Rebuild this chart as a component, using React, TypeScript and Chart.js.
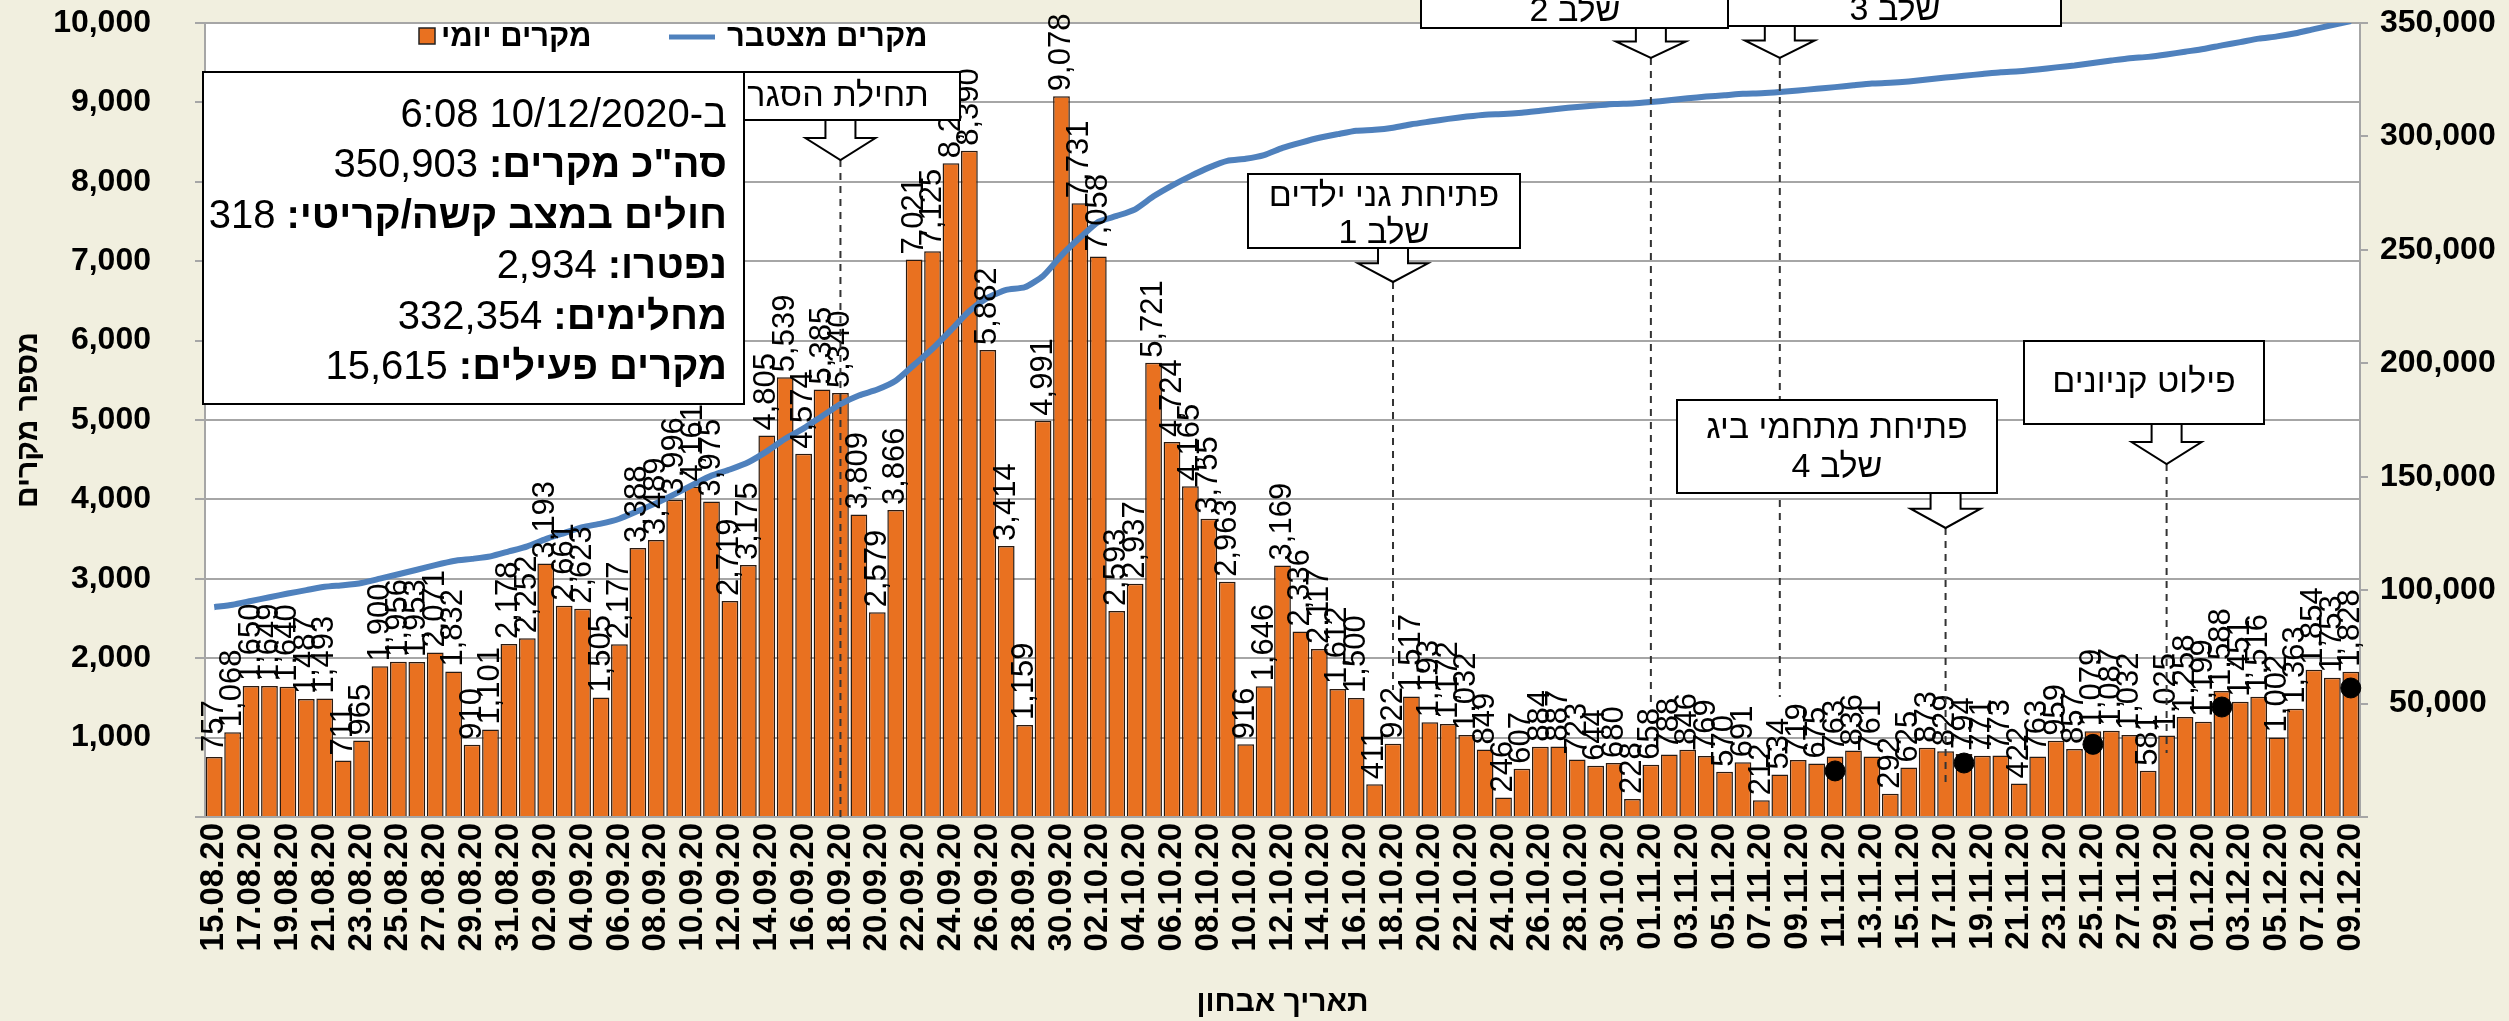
import React, { useEffect, useRef } from 'react';
import { Chart, registerables } from 'chart.js';

Chart.register(...registerables);

const FONT = "'Liberation Sans', Arial, sans-serif";

const dateLabels: string[] = [
  '15.08.20','16.08.20','17.08.20','18.08.20','19.08.20','20.08.20','21.08.20','22.08.20','23.08.20','24.08.20',
  '25.08.20','26.08.20','27.08.20','28.08.20','29.08.20','30.08.20','31.08.20',
  '01.09.20','02.09.20','03.09.20','04.09.20','05.09.20','06.09.20','07.09.20','08.09.20','09.09.20','10.09.20',
  '11.09.20','12.09.20','13.09.20','14.09.20','15.09.20','16.09.20','17.09.20','18.09.20','19.09.20','20.09.20',
  '21.09.20','22.09.20','23.09.20','24.09.20','25.09.20','26.09.20','27.09.20','28.09.20','29.09.20','30.09.20',
  '01.10.20','02.10.20','03.10.20','04.10.20','05.10.20','06.10.20','07.10.20','08.10.20','09.10.20','10.10.20',
  '11.10.20','12.10.20','13.10.20','14.10.20','15.10.20','16.10.20','17.10.20','18.10.20','19.10.20','20.10.20',
  '21.10.20','22.10.20','23.10.20','24.10.20','25.10.20','26.10.20','27.10.20','28.10.20','29.10.20','30.10.20','31.10.20',
  '01.11.20','02.11.20','03.11.20','04.11.20','05.11.20','06.11.20','07.11.20','08.11.20','09.11.20','10.11.20',
  '11.11.20','12.11.20','13.11.20','14.11.20','15.11.20','16.11.20','17.11.20','18.11.20','19.11.20','20.11.20',
  '21.11.20','22.11.20','23.11.20','24.11.20','25.11.20','26.11.20','27.11.20','28.11.20','29.11.20','30.11.20',
  '01.12.20','02.12.20','03.12.20','04.12.20','05.12.20','06.12.20','07.12.20','08.12.20','09.12.20',
];

const dailyCases: number[] = [
  757, 1068, 1650, 1649, 1640, 1487, 1493, 711, 965, 1900,
  1956, 1953, 2071, 1832, 910, 1101, 2178,
  2252, 3193, 2661, 2623, 1505, 2177, 3388, 3489, 3996, 4161,
  3975, 2719, 3175, 4805, 5539, 4574, 5385, 5340, 3809, 2579,
  3866, 7021, 7125, 8234, 8390, 5882, 3414, 1159, 4991, 9078,
  7731, 7058, 2593, 2937, 5721, 4724, 4165, 3755, 2963, 916,
  1646, 3169, 2336, 2117, 1612, 1500, 411, 922, 1517, 1193,
  1172, 1032, 849, 246, 607, 884, 887, 723, 644, 680, 228,
  658, 788, 846, 769, 570, 691, 212, 534, 719, 675,
  763, 836, 761, 292, 625, 873, 829, 794, 771, 773,
  422, 763, 959, 857, 1079, 1087, 1032, 581, 1025, 1258,
  1199, 1588, 1451, 1516, 1002, 1363, 1854, 1753, 1828,
];

const cumulativeCases: number[] = [
  92500, 93568, 95218, 96867, 98507, 99994, 101487, 102198, 103163, 105063,
  107019, 108972, 111043, 112875, 113785, 114886, 117064,
  119316, 122509, 125170, 127793, 129298, 131475, 134863, 138352, 142348, 146509,
  150484, 153203, 156378, 161183, 166722, 171296, 176681, 182021, 185830, 188409,
  192275, 199296, 206421, 214655, 223045, 228927, 232341, 233500, 238491, 247569,
  255300, 262358, 264951, 267888, 273609, 278333, 282498, 286253, 289216, 290132,
  291778, 294947, 297283, 299400, 301012, 302512, 302923, 303845, 305362, 306555,
  307727, 308759, 309608, 309854, 310461, 311345, 312232, 312955, 313599, 314279, 314507,
  315165, 315953, 316799, 317568, 318138, 318829, 319041, 319575, 320294, 320969,
  321732, 322568, 323329, 323621, 324246, 325119, 325948, 326742, 327513, 328286,
  328708, 329471, 330430, 331287, 332366, 333453, 334485, 335066, 336091, 337349,
  338548, 340136, 341587, 343103, 344105, 345468, 347322, 349075, 350903,
];

const markerDates: string[] = ['11.11.20', '18.11.20', '25.11.20', '02.12.20', '09.12.20'];
const markerValues: number[] = [580, 680, 915, 1385, 1625];

const seriesNames = ['מקרים יומי', 'מקרים מצטבר'];
const yAxisTitle = 'מספר מקרים';
const xAxisTitle = 'תאריך אבחון';

const leftAxisMax = 10000;
const leftAxisStep = 1000;
const rightAxisMax = 350000;
const rightAxisStep = 50000;

const infoHeader = 'ב-10/12/2020 6:08';
const infoLabels = ['סה"כ מקרים:', 'חולים במצב קשה/קריטי:', 'נפטרו:', 'מחלימים:', 'מקרים פעילים:'];
const infoValues = ['350,903', '318', '2,934', '332,354', '15,615'];

const eventDates = ['18.09.20', '18.10.20', '01.11.20', '08.11.20', '17.11.20', '29.11.20'];
const eventTexts: string[][] = [
  ['תחילת הסגר'],
  ['פתיחת גני ילדים', 'שלב 1'],
  ['שלב 2'],
  ['שלב 3'],
  ['פתיחת מתחמי ביג', 'שלב 4'],
  ['פילוט קניונים'],
];

// Layout of the callout shapes (pixels), kept separate from the data
const eventLayout = [
  { box: [717, 72, 243, 48], textX: 838, textY: [97], arrowTop: 120, arrowTip: 160, lineEnd: 0 },
  { box: [1248, 174, 272, 74], textX: 1384, textY: [197, 234], arrowTop: 248, arrowTip: 282, lineEnd: 1600 },
  { box: [1421, -60, 307, 88], textX: 1575, textY: [12], arrowTop: 28, arrowTip: 58, lineEnd: 1385 },
  { box: [1728, -60, 333, 86], textX: 1895, textY: [11], arrowTop: 26, arrowTip: 58, lineEnd: 1510 },
  { box: [1677, 400, 320, 93], textX: 1837, textY: [429, 468], arrowTop: 493, arrowTip: 528, lineEnd: 400 },
  { box: [2024, 341, 240, 83], textX: 2144, textY: [383], arrowTop: 424, arrowTip: 464, lineEnd: 805 },
];

const fmt = (v: number) => v.toLocaleString('en-US');

function drawArrow(ctx: CanvasRenderingContext2D, cx: number, top: number, tip: number) {
  const h = tip - top;
  const shaftH = h * 0.45;
  const sw = 15;
  const hw = 35;
  ctx.beginPath();
  ctx.moveTo(cx - sw, top);
  ctx.lineTo(cx + sw, top);
  ctx.lineTo(cx + sw, top + shaftH);
  ctx.lineTo(cx + hw, top + shaftH);
  ctx.lineTo(cx, tip);
  ctx.lineTo(cx - hw, top + shaftH);
  ctx.lineTo(cx - sw, top + shaftH);
  ctx.closePath();
  ctx.fillStyle = '#ffffff';
  ctx.fill();
  ctx.strokeStyle = '#000000';
  ctx.lineWidth = 2;
  ctx.stroke();
}

const decorPlugin = {
  id: 'decor',
  beforeDraw(chart: any) {
    const { ctx, chartArea } = chart;
    ctx.save();
    ctx.fillStyle = '#F1EFDF';
    ctx.fillRect(0, 0, chart.width, chart.height);
    ctx.fillStyle = '#ffffff';
    ctx.fillRect(chartArea.left, chartArea.top, chartArea.right - chartArea.left, chartArea.bottom - chartArea.top);
    ctx.restore();
  },
  afterDraw(chart: any) {
    const { ctx } = chart;
    const xScale = chart.scales.x;
    const yScale = chart.scales.y;
    ctx.save();

    // bar value labels
    const meta = chart.getDatasetMeta(0);
    ctx.fillStyle = '#000000';
    ctx.font = `31px ${FONT}`;
    ctx.textAlign = 'left';
    ctx.textBaseline = 'middle';
    meta.data.forEach((el: any, i: number) => {
      const { x, y } = el.getProps(['x', 'y'], true);
      ctx.save();
      ctx.translate(x, y - 5);
      ctx.rotate(-Math.PI / 2);
      ctx.fillText(fmt(dailyCases[i]), 0, 0);
      ctx.restore();
    });

    // event callouts
    eventDates.forEach((d, k) => {
      const L = eventLayout[k];
      const idx = dateLabels.indexOf(d);
      const cx = xScale.getPixelForValue(idx);
      ctx.save();
      ctx.setLineDash([7, 6]);
      ctx.strokeStyle = '#333333';
      ctx.lineWidth = 2;
      ctx.beginPath();
      ctx.moveTo(cx, L.arrowTip);
      ctx.lineTo(cx, yScale.getPixelForValue(L.lineEnd));
      ctx.stroke();
      ctx.restore();
      drawArrow(ctx, cx, L.arrowTop, L.arrowTip);
      const [bx, by, bw, bh] = L.box;
      ctx.fillStyle = '#ffffff';
      ctx.fillRect(bx, by, bw, bh);
      ctx.strokeStyle = '#000000';
      ctx.lineWidth = 2;
      ctx.strokeRect(bx, by, bw, bh);
      ctx.fillStyle = '#000000';
      ctx.font = `34px ${FONT}`;
      ctx.textAlign = 'center';
      ctx.textBaseline = 'middle';
      ctx.direction = 'rtl';
      eventTexts[k].forEach((t, j) => ctx.fillText(t, L.textX, L.textY[j]));
      ctx.direction = 'ltr';
    });

    // info box
    ctx.fillStyle = '#ffffff';
    ctx.fillRect(203, 72, 541, 332);
    ctx.strokeStyle = '#000000';
    ctx.lineWidth = 2;
    ctx.strokeRect(203, 72, 541, 332);
    ctx.fillStyle = '#000000';
    ctx.textBaseline = 'middle';
    ctx.textAlign = 'right';
    const rightX = 727;
    const lineY = (k: number) => 116 + k * 50.4;
    ctx.direction = 'rtl';
    ctx.font = `40px ${FONT}`;
    ctx.fillText(infoHeader, rightX, lineY(0));
    infoLabels.forEach((lab, k) => {
      ctx.direction = 'rtl';
      ctx.font = `bold 40px ${FONT}`;
      ctx.fillText(lab, rightX, lineY(k + 1));
      const w = ctx.measureText(lab).width;
      ctx.direction = 'ltr';
      ctx.font = `40px ${FONT}`;
      ctx.fillText(infoValues[k], rightX - w - 11, lineY(k + 1));
    });

    // legend
    ctx.direction = 'rtl';
    ctx.font = `bold 31px ${FONT}`;
    ctx.fillStyle = '#E97120';
    ctx.fillRect(419, 28, 16, 16);
    ctx.strokeStyle = '#222222';
    ctx.lineWidth = 1.5;
    ctx.strokeRect(419, 28, 16, 16);
    ctx.fillStyle = '#000000';
    ctx.textAlign = 'right';
    const w0 = ctx.measureText(seriesNames[0]).width;
    ctx.fillText(seriesNames[0], 441 + w0, 37);
    ctx.strokeStyle = '#4F81BD';
    ctx.lineWidth = 5;
    ctx.beginPath();
    ctx.moveTo(669, 37);
    ctx.lineTo(715, 37);
    ctx.stroke();
    const w1 = ctx.measureText(seriesNames[1]).width;
    ctx.fillText(seriesNames[1], 727 + w1, 37);
    ctx.restore();
  },
};

export default function App() {
  const ref = useRef<HTMLCanvasElement | null>(null);
  useEffect(() => {
    document.body.style.margin = '0';
    const canvas = ref.current;
    if (!canvas) return;
    Chart.defaults.font.family = FONT;
    const chart = new Chart(canvas, {
      type: 'bar',
      data: {
        labels: dateLabels,
        datasets: [
          {
            type: 'bar',
            label: seriesNames[0],
            data: dailyCases,
            yAxisID: 'y',
            backgroundColor: '#E97120',
            borderColor: '#2a1a10',
            borderWidth: 1.5,
            barPercentage: 0.91,
            categoryPercentage: 1.0,
            order: 3,
          } as any,
          {
            type: 'line',
            label: seriesNames[1],
            data: cumulativeCases,
            yAxisID: 'y2',
            borderColor: '#4F81BD',
            borderWidth: 6,
            pointRadius: 0,
            tension: 0.2,
            order: 1,
          } as any,
          {
            type: 'line',
            label: 'markers',
            data: markerDates.map((d, i) => ({ x: d, y: markerValues[i] })),
            yAxisID: 'y',
            showLine: false,
            pointRadius: 10,
            pointBackgroundColor: '#000000',
            pointBorderColor: '#000000',
            order: 0,
          } as any,
        ],
      },
      options: {
        responsive: false,
        animation: false,
        devicePixelRatio: 1,
        events: [],
        layout: { padding: { top: 23, left: 0, right: 0, bottom: 0 } },
        plugins: {
          legend: { display: false },
          tooltip: { enabled: false },
        },
        scales: {
          x: {
            type: 'category',
            grid: { display: false, drawTicks: false },
            border: { display: true, color: '#A6A6A6', width: 2 },
            ticks: {
              autoSkip: false,
              maxRotation: 90,
              minRotation: 90,
              padding: 6,
              color: '#000000',
              font: { size: 33, weight: 'bold', family: FONT },
              callback: (_v: any, i: number) => (i % 2 === 0 ? dateLabels[i] : ''),
            },
            title: {
              display: true,
              text: xAxisTitle,
              color: '#000000',
              font: { size: 30, weight: 'bold', family: FONT },
              padding: { top: 0, bottom: 0 },
            },
            afterFit: (s: any) => { s.height = 204; s.paddingLeft = 0; s.paddingRight = 0; },
          },
          y: {
            position: 'left',
            min: 0,
            max: leftAxisMax,
            grid: { color: '#A6A6A6', lineWidth: 2, drawTicks: true, tickLength: 10 },
            border: { display: true, color: '#A6A6A6', width: 2 },
            ticks: {
              stepSize: leftAxisStep,
              padding: 44,
              color: '#000000',
              font: { size: 32, weight: 'bold', family: FONT },
              callback: (v: any) => (v === 0 ? '' : fmt(Number(v))),
            },
            title: {
              display: true,
              text: yAxisTitle,
              color: '#000000',
              font: { size: 30, weight: 'bold', family: FONT },
              padding: { top: 11, bottom: 0 },
            },
            afterFit: (s: any) => { s.width = 205; s.paddingTop = 0; s.paddingBottom = 0; },
          },
          y2: {
            position: 'right',
            min: 0,
            max: rightAxisMax,
            grid: { drawOnChartArea: false, color: '#A6A6A6', lineWidth: 2, drawTicks: true, tickLength: 8 },
            border: { display: true, color: '#A6A6A6', width: 2 },
            ticks: {
              stepSize: rightAxisStep,
              padding: 12,
              crossAlign: 'center',
              color: '#000000',
              font: { size: 32, weight: 'bold', family: FONT },
              callback: (v: any) => (v === 0 ? '' : fmt(Number(v))),
            },
            afterFit: (s: any) => { s.width = 149; s.paddingTop = 0; s.paddingBottom = 0; },
          },
        },
      } as any,
      plugins: [decorPlugin],
    });
    return () => chart.destroy();
  }, []);
  return (
    <div style={{ width: 2509, height: 1021 }}>
      <canvas ref={ref} width={2509} height={1021} style={{ display: 'block' }} />
    </div>
  );
}
